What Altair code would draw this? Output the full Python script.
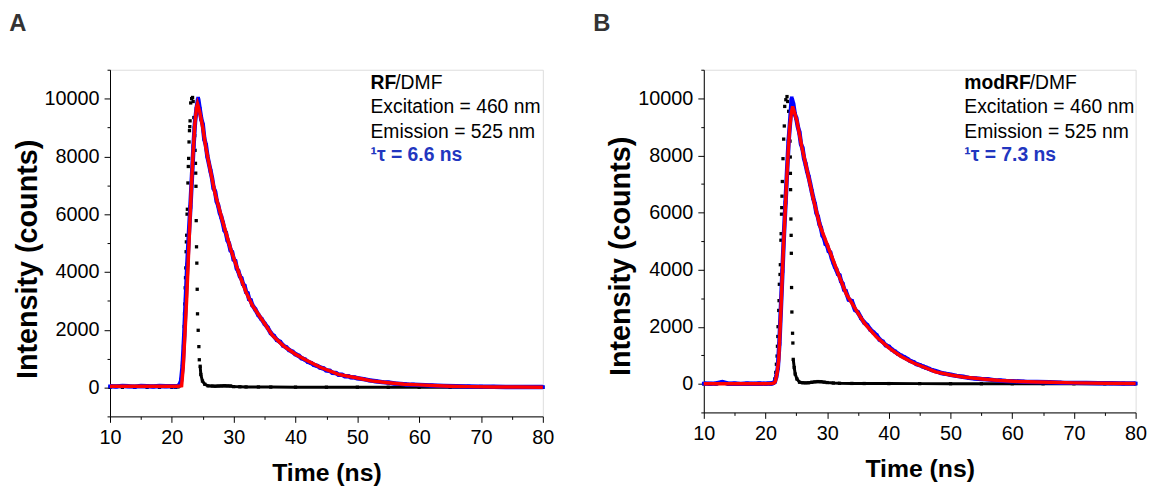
import altair as alt
import pandas as pd

# ---------------- data ----------------
X_TICKS = [10, 15, 20, 25, 30, 35, 40, 45, 50, 55, 60, 65, 70, 75, 80]
Y_TICKS = [-1000, 0, 1000, 2000, 3000, 4000, 5000, 6000, 7000, 8000, 9000, 10000, 11000]

# Panel A: RF/DMF  (time ns, counts)
A_DECAY = [
    (10, 40), (11, 35), (12, 55), (13, 40), (14, 30), (15, 50), (16, 45), (17, 35), (18, 50), (19, 40),
    (20, 45), (20.5, 40), (21.0, 55), (21.25, 90), (21.5, 230), (21.75, 760), (22.0, 1800), (22.25, 3050),
    (22.5, 4250), (22.75, 5300), (23.0, 6250), (23.25, 7300), (23.5, 8350), (23.75, 9200), (24.0, 9650),
    (24.25, 10000), (24.5, 9650), (24.75, 9300), (25.0, 9100), (25.25, 8600), (25.5, 8400), (25.75, 8000),
    (26.0, 7750), (26.25, 7500), (26.5, 7250), (26.75, 6900), (27.0, 6780), (27.25, 6450), (27.5, 6300),
    (27.75, 6050), (28.0, 5900), (28.25, 5700), (28.5, 5450), (28.75, 5350), (29.0, 5100), (29.25, 4980),
    (29.5, 4750), (29.75, 4680), (30.0, 4430), (30.25, 4380), (30.5, 4120), (30.75, 4030), (31.0, 3850),
    (31.25, 3780), (31.5, 3580), (31.75, 3520), (32.0, 3310), (32.25, 3260), (32.5, 3060), (32.75, 3020),
    (33.0, 2860), (33.5, 2700), (34.0, 2510), (34.5, 2370), (35.0, 2210), (35.5, 2070), (36.0, 1880),
    (36.5, 1780), (37.0, 1640), (37.5, 1580), (38.0, 1450), (38.5, 1390), (39.0, 1290), (39.5, 1240),
    (40.0, 1150), (40.5, 1100), (41.0, 1010), (41.5, 970), (42.0, 890), (42.5, 850), (43.0, 780),
    (43.5, 750), (44.0, 690), (44.5, 660), (45.0, 590), (45.5, 580), (46.0, 510), (46.5, 500), (47.0, 440),
    (47.5, 440), (48.0, 390), (48.5, 390), (49.0, 350), (49.5, 350), (50.0, 320), (51, 290), (52, 245),
    (53, 215), (54, 185), (55, 170), (56, 140), (57, 125), (58, 105), (59, 100), (60, 90), (62, 70),
    (64, 55), (66, 45), (68, 35), (70, 30), (72, 25), (74, 20), (76, 20), (78, 15), (80, 15),
]
A_FIT = [
    (10, 40), (15, 40), (20, 40), (21.0, 45), (21.3, 50), (21.58, 60), (21.85, 740), (22.12, 1870),
    (22.38, 3000), (22.65, 4360), (22.93, 5830), (23.19, 7080), (23.46, 8210), (23.72, 9120), (23.99, 9680),
    (24.15, 9820), (24.5, 9550), (25.0, 9000), (25.5, 8300), (26.1, 7650), (27.0, 6700), (28.26, 5720),
    (29.5, 4800), (30.93, 3910), (32.0, 3300), (33.0, 2850), (34.67, 2320), (36.27, 1800), (38.0, 1450),
    (40.0, 1150), (41.6, 960), (44.0, 700), (46.95, 452), (50.0, 330), (52.3, 228), (55.0, 165),
    (57.6, 112), (60.0, 90), (63.0, 60), (65.0, 45), (68.3, 30), (72.0, 20), (76.0, 15), (80.0, 12),
]
A_IRF = [
    (10, 5), (12, 5), (14, 5), (16, 5), (18, 5), (20, 5), (20.6, 8), (21.0, 20), (21.15, 50), (21.32, 112),
    (21.5, 280), (21.62, 510), (21.73, 850), (21.82, 1090), (21.89, 1430), (21.95, 1770), (22.0, 2110),
    (22.05, 2550), (22.1, 2890), (22.16, 3450), (22.21, 3800), (22.26, 4140), (22.31, 4700), (22.35, 5040),
    (22.4, 5270), (22.46, 6000), (22.51, 6170), (22.6, 7080), (22.66, 7650), (22.72, 7930), (22.78, 8500),
    (22.85, 8890), (22.9, 9030), (22.95, 9230), (23.05, 9850), (23.2, 10000), (23.35, 10040), (23.45, 9900),
    (23.56, 9345), (23.64, 9000), (23.7, 8720), (23.76, 8210), (23.82, 7760), (23.86, 7420), (23.9, 6965),
    (23.94, 5776), (23.99, 4870), (24.04, 4305), (24.1, 3400), (24.15, 2550), (24.26, 1980), (24.37, 1415),
    (24.44, 960), (24.58, 735), (24.69, 450), (24.95, 225), (25.33, 112), (25.86, 57), (26.5, 50),
    (27.0, 45), (27.5, 50), (28.0, 55), (28.5, 60), (29.0, 55), (29.5, 50), (30.0, 30), (31, 25), (32, 20),
    (34, 18), (36, 15), (40, 12), (45, 10), (50, 10), (55, 8), (60, 8), (65, 6), (70, 6), (75, 5), (80, 5),
]

# Panel B: modRF/DMF
B_DECAY = [
    (10, 10), (11, 5), (12, 15), (13, 60), (14, 5), (15, 10), (16, 0), (17, 10), (18, 5), (19, 15),
    (20, 5), (20.5, 10), (21.0, 15), (21.25, 30), (21.5, 70), (21.75, 250), (22.0, 560), (22.25, 1400),
    (22.5, 2650), (22.75, 3950), (23.0, 5250), (23.25, 6350), (23.5, 7450), (23.75, 8500), (24.0, 9200),
    (24.25, 10000), (24.5, 9800), (24.75, 9450), (25.0, 9300), (25.25, 9000), (25.5, 8800), (25.75, 8400),
    (26.0, 8250), (26.25, 7900), (26.5, 7700), (26.75, 7450), (27.0, 7250), (27.25, 7000), (27.5, 6750),
    (27.75, 6500), (28.0, 6300), (28.25, 6000), (28.5, 5850), (28.75, 5600), (29.0, 5450), (29.25, 5200),
    (29.5, 5100), (29.75, 4900), (30.0, 4850), (30.25, 4650), (30.5, 4600), (30.75, 4400), (31.0, 4250),
    (31.25, 4100), (31.5, 4000), (31.75, 3850), (32.0, 3800), (32.25, 3600), (32.5, 3500), (32.75, 3300),
    (33.0, 3250), (33.5, 2950), (34.0, 2900), (34.5, 2600), (35.0, 2500), (35.5, 2300), (36.0, 2150),
    (36.5, 2050), (37.0, 1900), (37.5, 1800), (38.0, 1700), (38.5, 1550), (39.0, 1480), (39.5, 1350),
    (40.0, 1300), (40.5, 1200), (41.0, 1130), (41.5, 1050), (42.0, 990), (42.5, 930), (43.0, 870),
    (43.5, 800), (44.0, 760), (44.5, 690), (45.0, 660), (45.5, 610), (46.0, 570), (46.5, 530), (47.0, 480),
    (47.5, 450), (48.0, 420), (48.5, 380), (49.0, 360), (49.5, 340), (50.0, 320), (51, 280), (52, 250),
    (53, 210), (54, 190), (55, 170), (56, 160), (57, 130), (58, 120), (59, 100), (60, 95), (62, 75),
    (64, 65), (66, 55), (68, 40), (70, 35), (72, 30), (74, 25), (76, 20), (78, 15), (80, 15),
]
B_FIT = [
    (10, 5), (15, 5), (20, 5), (21.0, 8), (21.4, 30), (21.6, 80), (21.9, 400), (22.15, 860), (22.52, 2690),
    (22.95, 4970), (23.21, 6120), (23.6, 7830), (23.92, 8970), (24.2, 9500), (24.4, 9715), (24.7, 9500),
    (25.1, 9200), (25.9, 8290), (26.97, 7260), (27.77, 6460), (28.83, 5540), (30.44, 4630), (32.04, 3720),
    (33.12, 3140), (34.72, 2570), (36.06, 2115), (38.0, 1640), (40.0, 1260), (42.0, 960), (44.0, 730),
    (47.57, 420), (50.0, 310), (52.0, 240), (55.6, 160), (58.0, 115), (61.0, 85), (64.0, 65), (66.3, 55),
    (70.0, 35), (75.0, 20), (80.0, 12),
]
B_IRF = [
    (10, 0), (12, 0), (14, 0), (16, 0), (18, 0), (20, 0), (20.8, 5), (21.1, 15), (21.3, 30), (21.51, 171),
    (21.67, 401), (21.77, 686), (21.88, 973), (21.94, 1316), (22.0, 1659), (22.04, 2002), (22.15, 2571),
    (22.2, 2914), (22.25, 3486), (22.36, 3830), (22.41, 4172), (22.5, 5030), (22.54, 5259), (22.6, 5942),
    (22.64, 6171), (22.68, 6572), (22.73, 7086), (22.84, 7885), (22.95, 8570), (23.05, 9030), (23.12, 9715),
    (23.3, 9950), (23.49, 10060), (23.6, 9887), (23.76, 9544), (23.92, 9085), (23.98, 8500), (24.02, 7943),
    (24.04, 7371), (24.07, 6801), (24.12, 5773), (24.16, 5201), (24.19, 4572), (24.23, 3373), (24.28, 2516),
    (24.39, 1772), (24.44, 1430), (24.5, 857), (24.66, 572), (24.82, 343), (25.1, 171), (25.52, 58),
    (26.0, 40), (26.5, 35), (27.0, 40), (27.5, 55), (28.0, 70), (28.5, 80), (29.0, 75), (29.5, 60),
    (30.0, 45), (31, 30), (32, 20), (34, 15), (36, 12), (40, 10), (45, 8), (50, 6), (55, 5), (60, 5),
    (65, 4), (70, 4), (75, 3), (80, 3),
]

A_TEXT = ["RF", "/DMF", "Excitation = 460 nm", "Emission = 525 nm", "\u00b9\u03c4 = 6.6 ns"]
B_TEXT = ["modRF", "/DMF", "Excitation = 460 nm", "Emission = 525 nm", "\u00b9\u03c4 = 7.3 ns"]

FONT = "Liberation Sans"
BLUE_TEXT = "#2236bf"


def make_axes(title_y):
    xaxis = alt.Axis(
        values=X_TICKS, format="d", grid=False, labelOverlap=False, labelFlush=False,
        labelExpr="datum.value % 10 == 0 ? datum.label : ''",
        tickSize={"condition": {"test": "datum.value % 10 == 0", "value": 6}, "value": 3},
        domainColor="#000000", tickColor="#000000", domainWidth=1, tickWidth=1,
        labelFontSize=20, labelColor="#000000", labelPadding=5, labelFont=FONT,
        titleFontSize=25, titleFontWeight="bold", titleColor="#000000", titlePadding=14, titleFont=FONT,
    )
    yaxis = alt.Axis(
        values=Y_TICKS, format="d", grid=False, labelOverlap=False, labelFlush=False,
        labelExpr="datum.value >= 0 && datum.value % 2000 == 0 ? datum.label : ''",
        tickSize={"condition": {"test": "datum.value % 2000 == 0", "value": 6}, "value": 3},
        domainColor="#000000", tickColor="#000000", domainWidth=1, tickWidth=1,
        labelFontSize=20, labelColor="#000000", labelPadding=5, labelFont=FONT,
        titleFontSize=29, titleFontWeight="bold", titleColor="#000000", titlePadding=2, titleFont=FONT,
        titleY=title_y,
    )
    return xaxis, yaxis


def panel(decay, fit, irf, texts, name_w, letter, width, height, title_y, title_dx):
    xaxis, yaxis = make_axes(title_y)
    x = alt.X("t:Q", scale=alt.Scale(domain=[10, 80], nice=False, zero=False), axis=xaxis, title="Time (ns)")
    y = alt.Y("I:Q", scale=alt.Scale(domain=[-1000, 11000], nice=False, zero=False), axis=yaxis,
              title="Intensity (counts)")

    d_decay = pd.DataFrame(decay, columns=["t", "I"])
    d_fit = pd.DataFrame(fit, columns=["t", "I"])
    d_irf = pd.DataFrame(irf, columns=["t", "I"])

    irf_tail = alt.Chart(d_irf).transform_filter("datum.t >= 24.5").mark_line(
        color="#000000", strokeWidth=3).encode(x=x, y=y)
    irf_pts = alt.Chart(d_irf).mark_square(size=11, color="#000000", opacity=1).encode(x=x, y=y)
    decay_line = alt.Chart(d_decay).mark_line(color="#0000ff", strokeWidth=4.5).encode(x=x, y=y)
    decay_pts = alt.Chart(d_decay).mark_square(size=14, color="#0000ff", opacity=1).encode(x=x, y=y)
    fit_line = alt.Chart(d_fit).mark_line(color="#ff0000", strokeWidth=3.5).encode(x=x, y=y)

    def txt(label, px, py, bold=False, color="#000000"):
        return alt.Chart(pd.DataFrame({"label": [label]})).mark_text(
            align="left", baseline="alphabetic", font=FONT, fontSize=19.5,
            fontWeight="bold" if bold else "normal", color=color,
        ).encode(x=alt.value(px), y=alt.value(py), text="label:N")

    tx = 263
    layers = [
        irf_tail, irf_pts, decay_line, decay_pts, fit_line,
        txt(texts[0], tx, 19, bold=True),
        txt(texts[1], tx + name_w, 19),
        txt(texts[2], tx, 43.5),
        txt(texts[3], tx, 68.5),
        txt(texts[4], tx, 92.5, bold=True, color=BLUE_TEXT),
    ]
    return alt.layer(*layers).properties(
        width=width, height=height,
        title=alt.TitleParams(letter, anchor="start", frame="bounds", fontSize=24, fontWeight="bold",
                              color="#333333", font=FONT, offset=24, dx=title_dx),
    )


chart_a = panel(A_DECAY, A_FIT, A_IRF, A_TEXT, 25, "A", 437, 350, 191, -4)
chart_b = panel(B_DECAY, B_FIT, B_IRF, B_TEXT, 66, "B", 436, 346, 188, -14)

chart = alt.hconcat(chart_a, chart_b, spacing=37.5).properties(
    padding={"left": 0, "top": 1, "right": 0, "bottom": 0}
).configure_view(strokeWidth=0).configure(font=FONT)

chart.save("out.html", embed_options={"renderer": "svg", "actions": False})
